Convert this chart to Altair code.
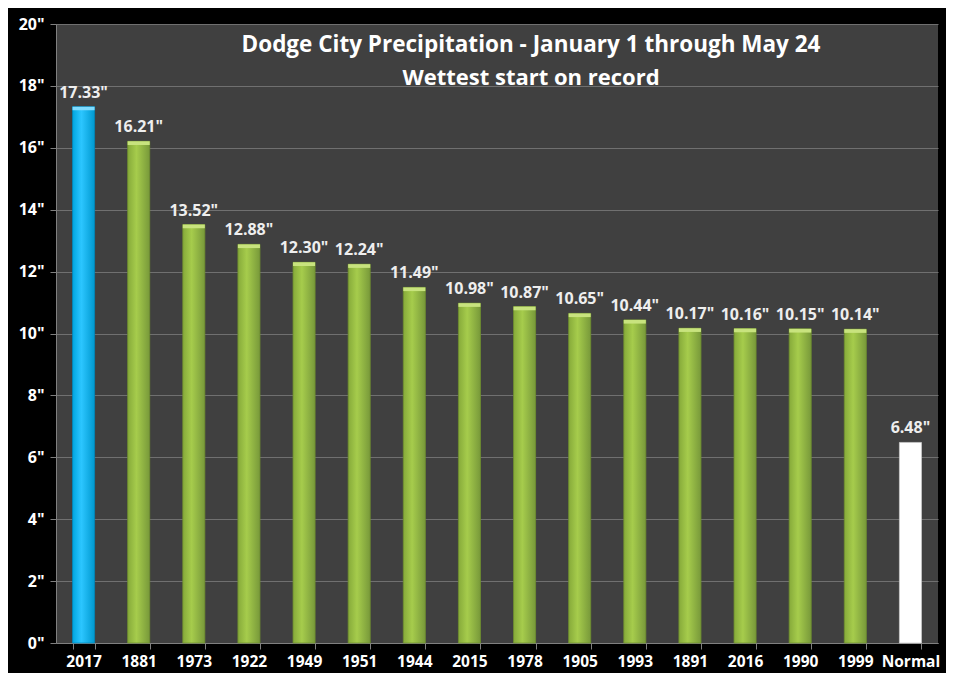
import altair as alt
import pandas as pd

years = ["2017", "1881", "1973", "1922", "1949", "1951", "1944", "2015",
         "1978", "1905", "1993", "1891", "2016", "1990", "1999", "Normal"]
values = [17.33, 16.21, 13.52, 12.88, 12.30, 12.24, 11.49, 10.98,
          10.87, 10.65, 10.44, 10.17, 10.16, 10.15, 10.14, 6.48]
kinds = ["record"] + ["green"] * 14 + ["normal"]
title_lines = ["Dodge City Precipitation - January 1 through May 24",
               "Wettest start on record"]

df = pd.DataFrame({"year": years, "value": values, "kind": kinds})
df["label"] = [f'{v:.2f}"' for v in values]

W, H = 882, 619
FONT = "Open Sans"

x_enc = alt.X("year:N", sort=years, title=None,
              scale=alt.Scale(paddingInner=0.6, paddingOuter=0.3),
              axis=alt.Axis(labelAngle=0, labelColor="white", labelFont=FONT,
                            labelFontSize=15.5, labelFontWeight="bold",
                            tickBand="extent", tickColor="#808080", tickSize=6,
                            domainColor="#808080", labelPadding=5))
y_enc = alt.Y("value:Q", title=None,
              scale=alt.Scale(domain=[0, 20], nice=False),
              axis=alt.Axis(values=list(range(0, 21, 2)),
                            labelExpr="datum.value + '\"'",
                            labelColor="white", labelFont=FONT,
                            labelFontSize=16, labelFontWeight="bold",
                            gridColor="#707070", gridWidth=1.2,
                            tickColor="#808080", tickSize=6,
                            domainColor="#808080", labelPadding=6))


def grad(c_edge, c_mid, c_edge2):
    return alt.Gradient(gradient="linear", x1=0, x2=1, y1=0, y2=0,
                        stops=[alt.GradientStop(color=c_edge, offset=0),
                               alt.GradientStop(color=c_mid, offset=0.4),
                               alt.GradientStop(color=c_edge2, offset=1)])


base = alt.Chart(df)
bar_green = base.transform_filter("datum.kind == 'green'").mark_bar(
    color=grad("#86aa3a", "#a6cc4c", "#78993a"), stroke="#6f8f2e", strokeWidth=0.8
).encode(x=x_enc, y=y_enc)
bar_blue = base.transform_filter("datum.kind == 'record'").mark_bar(
    color=grad("#00a6e0", "#2cc6ff", "#0099d0"), stroke="#0088bb", strokeWidth=0.8
).encode(x=x_enc, y=y_enc)
bar_white = base.transform_filter("datum.kind == 'normal'").mark_bar(
    color="#ffffff", stroke="#cccccc", strokeWidth=0.8
).encode(x=x_enc, y=y_enc)

cap_y = alt.Y("value:Q")
cap_green = base.transform_filter("datum.kind == 'green'").transform_calculate(
    v2="datum.value - 0.12").mark_bar(color="#c8e37e").encode(
    x=x_enc, y=cap_y, y2="v2:Q")
cap_blue = base.transform_filter("datum.kind == 'record'").transform_calculate(
    v2="datum.value - 0.12").mark_bar(color="#7fdcff").encode(
    x=x_enc, y=cap_y, y2="v2:Q")

labels = base.mark_text(dy=-14, color="#eeeeee", font=FONT, fontSize=16,
                        fontWeight="bold").encode(x=x_enc, y=y_enc, text="label:N")

tdf = pd.DataFrame({"t": title_lines, "i": [0, 1]})
title1 = alt.Chart(tdf).transform_filter("datum.i == 0").mark_text(
    color="white", font=FONT, fontSize=22.5, fontWeight="bold", align="center",
    baseline="middle").encode(x=alt.value(475), y=alt.value(21), text="t:N")
title2 = alt.Chart(tdf).transform_filter("datum.i == 1").mark_text(
    color="white", font=FONT, fontSize=22, fontWeight="bold", align="center",
    baseline="middle").encode(x=alt.value(475), y=alt.value(54), text="t:N")

chart = alt.layer(bar_green, bar_blue, bar_white, cap_green, cap_blue, labels,
                  title1, title2).properties(
    width=W, height=H,
    autosize=alt.AutoSizeParams(type="none"),
    padding={"left": 48, "top": 16, "right": 8, "bottom": 30},
    background="black",
).configure_view(fill="#404040", stroke=None)

chart.save("out.html", embed_options={"renderer": "svg", "actions": False})
